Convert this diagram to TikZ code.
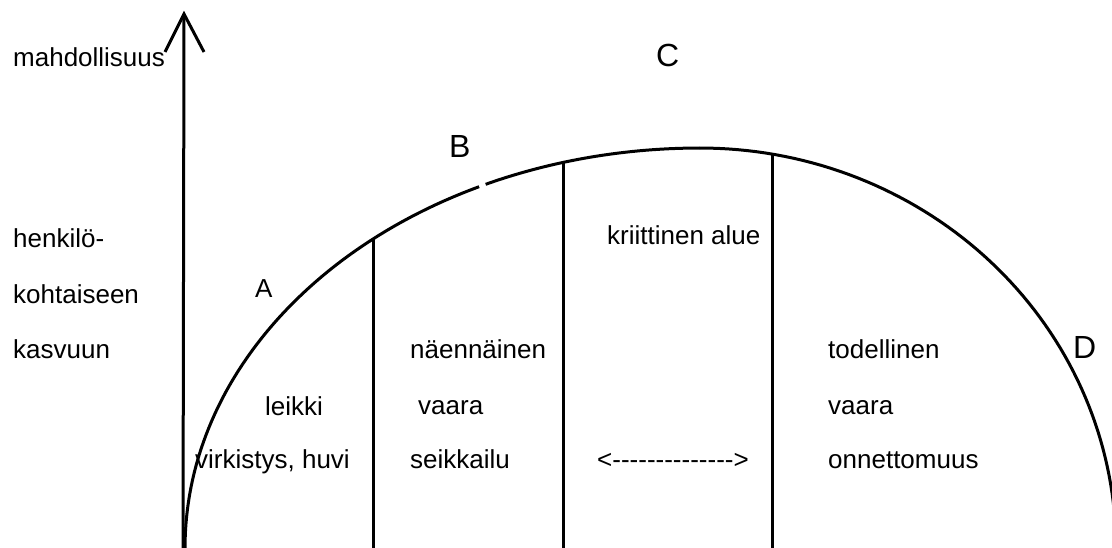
\documentclass[tikz,border=0pt]{standalone}
\usepackage{fontspec}
\setmainfont{Liberation Sans}
\begin{document}
\begin{tikzpicture}[x=1pt,y=-1pt,
  lbl/.style={anchor=base west,inner sep=0pt,font=\fontsize{26}{31}\selectfont},
  big/.style={anchor=base west,inner sep=0pt,font=\fontsize{32}{38}\selectfont},
  ink/.style={line width=3pt,black}]
\useasboundingbox (0,0) rectangle (1112,548);
\clip (0,0) rectangle (1112,548);

% vertical axis with open arrow head
\coordinate (base) at (183,548);
\coordinate (tip) at (184,14);
\coordinate (headL) at (165,52);
\coordinate (headR) at (204,52);
\draw[ink] (base) -- (tip);
\draw[ink,line join=miter] (headL) -- (tip) -- (headR);

% the arch: two half-ellipses meeting at the crest (700,148)
\draw[ink] plot[domain=115.4:180,samples=60] ({700+515*cos(\x)},{548-400*sin(\x)});
\draw[ink] plot[domain=90:114.6,samples=30] ({700+515*cos(\x)},{548-400*sin(\x)});
\draw[ink] plot[domain=0:90,samples=70] ({700+416*cos(\x)},{548-400*sin(\x)});

% zone boundaries
\coordinate (z1top) at (373,238);
\coordinate (z1bot) at (373,548);
\coordinate (z2top) at (563,161);
\coordinate (z2bot) at (563,548);
\coordinate (z3top) at (772,153);
\coordinate (z3bot) at (772,548);
\draw[ink] (z1top) -- (z1bot);
\draw[ink] (z2top) -- (z2bot);
\draw[ink] (z3top) -- (z3bot);

% axis captions
\node[lbl] (mahd) at (13,67) {mahdollisuus};
\node[lbl] (henk) at (13,248) {henkilö-};
\node[lbl] (koht) at (13,304) {kohtaiseen};
\node[lbl] (kasv) at (13,359) {kasvuun};

% region letters
\node[lbl] (A) at (255,298) {A};
\node[big] (B) at (449,158) {B};
\node[big] (C) at (656,67) {C};
\node[big] (D) at (1073,358) {D};

% zone texts
\node[lbl] (leikki) at (265,415) {leikki};
\node[lbl] (virk) at (195,468) {virkistys, huvi};
\node[lbl] (naenn) at (410,358) {näennäinen};
\node[lbl] (vaara1) at (418,414) {vaara};
\node[lbl] (seik) at (410,468) {seikkailu};
\node[lbl] (krit) at (607,245) {kriittinen alue};
\node[lbl] (swing) at (597,468) {<-{}-{}-{}-{}-{}-{}-{}-{}-{}-{}-{}-{}-{}-{}>};
\node[lbl] (todel) at (828,358) {todellinen};
\node[lbl] (vaara2) at (828,414) {vaara};
\node[lbl] (onn) at (828,468) {onnettomuus};
\end{tikzpicture}
\end{document}
